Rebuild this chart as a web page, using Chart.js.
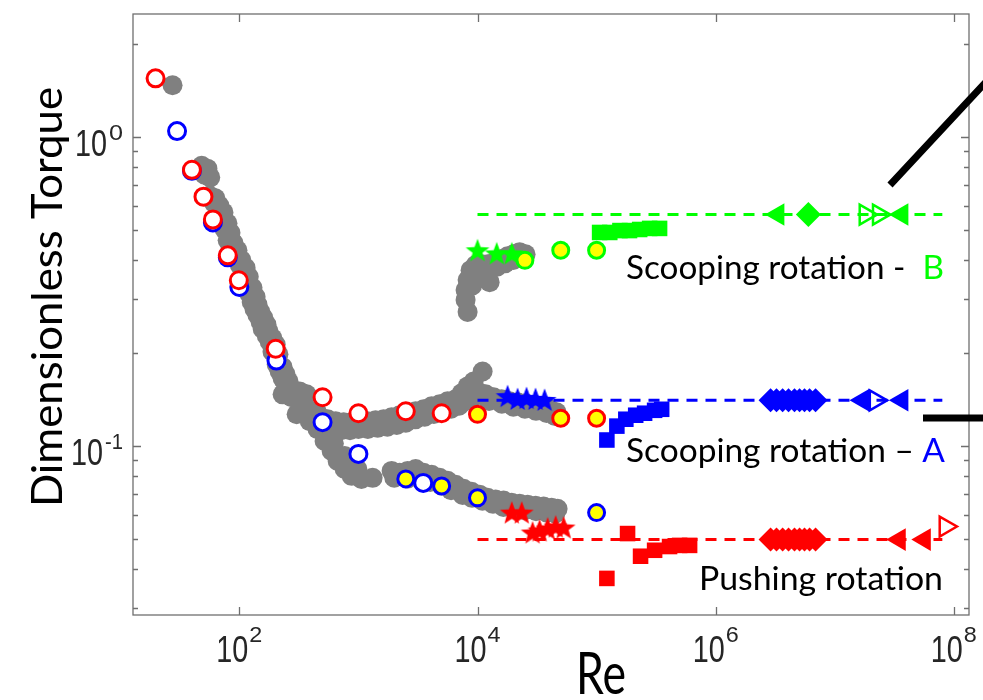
<!DOCTYPE html>
<html>
<head>
<meta charset="utf-8">
<script src="https://cdn.jsdelivr.net/npm/chart.js@4"></script>
<style>
  body { margin: 0; background: #fff; }
  #wrap { width: 983px; height: 700px; }
</style>
</head>
<body>
<div id="wrap"><canvas id="myChart" width="983" height="700"></canvas></div>
<script>
// axis ranges (Re, dimensionless torque)
const xMin = 12.8, xMax = 1.34e8;
const yMin = 0.0284, yMax = 2.5;

// tick labels
const xTicks = [1e2, 1e4, 1e6, 1e8];
const xTickExp = ['2', '4', '6', '8'];
const yTicks = [1, 0.1];
const yTickExp = ['0', '-1'];
const yMinor = [0.03, 0.04, 0.05, 0.06, 0.07, 0.08, 0.09, 0.2, 0.3, 0.4, 0.5, 0.6, 0.7, 0.8, 0.9, 2];

// grey background data [Re, torque]
const grayPts = [
  [27.5, 1.47], [48.3, 0.807], [51.1, 0.755], [56.3, 0.646], [60.8, 0.614], [65.7, 0.582],
  [71, 0.537], [75.3, 0.502], [79.8, 0.463], [86.2, 0.44], [93.1, 0.408], [101, 0.385],
  [107, 0.36], [115, 0.332], [122, 0.31], [127, 0.2925], [134, 0.278], [142, 0.2657],
  [151, 0.252], [157, 0.2394], [170, 0.2275], [180, 0.2176], [190, 0.202], [206, 0.1835],
  [218, 0.1742], [231, 0.1654], [240, 0.1618], [231, 0.147], [264, 0.1559], [303, 0.1502],
  [321, 0.1502], [367, 0.147], [303, 0.1267], [353, 0.1345], [405, 0.1296], [446, 0.1296],
  [54, 0.79], [57, 0.74], [63, 0.633], [68, 0.6], [73.6, 0.57], [79.5, 0.526], [84.3, 0.49],
  [89.4, 0.454], [96.5, 0.43], [104, 0.4], [113, 0.377], [120, 0.353], [129, 0.325], [137, 0.304],
  [142, 0.287], [150, 0.272], [159, 0.26], [169, 0.247], [176, 0.235], [190, 0.223], [202, 0.213],
  [213, 0.198], [231, 0.18], [244, 0.171], [259, 0.162], [275, 0.1438], [333, 0.1375], [390, 0.1203],
  // upper branch
  [472, 0.1249], [551, 0.1221], [644, 0.1203], [751, 0.1195], [877, 0.1195], [1023, 0.1203],
  [1195, 0.1203], [1394, 0.1212], [1628, 0.1221], [1900, 0.1239], [2218, 0.1258], [2590, 0.1277],
  [3022, 0.1296], [3528, 0.1315], [4118, 0.1345], [4807, 0.1365], [5610, 0.1396], [6549, 0.1416],
  [7353, 0.1481], [8258, 0.1559], [9274, 0.1618], [11040, 0.1742], [10020, 0.1502], [11700, 0.147],
  [13650, 0.1438], [15930, 0.1416], [18600, 0.1396], [21720, 0.1385], [25340, 0.1375], [29580, 0.1355],
  [34530, 0.1335], [40310, 0.1315], [46150, 0.1286],
  [472, 0.118], [600, 0.114], [720, 0.1125], [850, 0.1125], [1000, 0.1135], [1200, 0.1135],
  [1450, 0.1145], [1750, 0.1155], [2100, 0.117], [2500, 0.119], [3000, 0.122], [3600, 0.1245],
  [4300, 0.127], [5100, 0.1295], [6000, 0.132], [7000, 0.135], [8000, 0.14], [9500, 0.145],
  [12500, 0.14], [16000, 0.137], [20000, 0.134], [25000, 0.132], [31000, 0.13], [38000, 0.128],
  [45000, 0.125],
  // lower branch
  [454, 0.1134], [520, 0.1038], [596, 0.0964], [669, 0.0895], [766, 0.0843], [877, 0.0801],
  [520, 0.1117], [622, 0.102], [766, 0.0929], [980, 0.0843], [1060, 0.0783],
  [1316, 0.0789], [1900, 0.0831], [2218, 0.0819], [2590, 0.0831], [3022, 0.0843], [3528, 0.0819],
  [4118, 0.0807], [4807, 0.0789], [5610, 0.0772], [6549, 0.0749], [7641, 0.0727], [8920, 0.0711],
  [10410, 0.0696], [12160, 0.068], [14190, 0.0671], [16560, 0.0666], [19340, 0.0656], [22570, 0.0651],
  [26340, 0.0646], [30740, 0.0641], [35890, 0.0637], [41900, 0.0632], [47040, 0.0627],
  [2000, 0.079], [2600, 0.0785], [3300, 0.079], [4000, 0.0765], [5000, 0.0745], [6000, 0.072],
  [7500, 0.0695], [9000, 0.068], [11000, 0.0665], [13500, 0.065], [16500, 0.0635], [20000, 0.0628],
  [25000, 0.062], [31000, 0.0615], [38000, 0.061], [45000, 0.0605],
  // branch towards B
  [8258, 0.2717], [7943, 0.297], [7943, 0.3197], [8258, 0.3443], [8750, 0.3708], [9640, 0.385],
  [10820, 0.3877], [12640, 0.339], [9840, 0.3573], [12160, 0.3877], [13920, 0.394], [15930, 0.4023],
  [17890, 0.4113], [20100, 0.4174], [22570, 0.424], [25340, 0.4174],
  [9000, 0.33], [9500, 0.36], [10500, 0.365], [11500, 0.37], [13000, 0.375], [14500, 0.38],
  [17000, 0.39], [20000, 0.4], [11000, 0.35]
];

const redOpen = [[19.8, 1.548], [40, 0.783], [50, 0.641], [60, 0.541], [80, 0.414], [99, 0.344],
  [202, 0.2065], [500, 0.1438], [1000, 0.1277], [2500, 0.1296], [5000, 0.1277]];
const blueOpen = [[30, 1.045], [40, 0.777], [60, 0.529], [80, 0.408], [100, 0.327], [205, 0.189],
  [500, 0.1195], [1000, 0.0943], [3500, 0.076]];
const redYellow = [[1e4, 0.1267], [5e4, 0.123], [1e5, 0.123]];
const blueYellow = [[2500, 0.0783], [5000, 0.0743], [1e4, 0.068], [1e5, 0.0609]];
const greenYellow = [[2.5e4, 0.399], [5e4, 0.43], [1e5, 0.43]];

const greenStars = [[1e4, 0.43], [1.45e4, 0.42], [1.94e4, 0.42]];
const blueStars = [[17900, 0.145], [21700, 0.142], [25800, 0.143], [30700, 0.142], [36600, 0.141]];
const redStars = [[19400, 0.0609], [23500, 0.0609], [29000, 0.0525], [33200, 0.0533],
  [38800, 0.0541], [45300, 0.0549], [52900, 0.0545]];

const greenSquares = [[1.06e5, 0.491], [1.29e5, 0.491], [1.57e5, 0.498], [1.89e5, 0.498],
  [2.3e5, 0.502], [2.79e5, 0.506], [3.38e5, 0.506]];
const blueSquares = [[1.22e5, 0.1046], [1.48e5, 0.116], [1.76e5, 0.1221], [2.13e5, 0.1258],
  [2.53e5, 0.1277], [3.07e5, 0.1305], [3.52e5, 0.1315]];
const redSquares = [[1.22e5, 0.0373], [1.82e5, 0.0521], [2.34e5, 0.044], [3.07e5, 0.046],
  [4.1e5, 0.0473], [4.98e5, 0.0477], [6.04e5, 0.0477]];

// large-Re levels (dashed lines)
const lineRe = [1e4, 8e7];
const levelB = 0.561, levelA = 0.1406, levelPush = 0.0498;
const diamondRe = [2.89e6, 3.24e6, 3.65e6, 4.09e6, 4.59e6, 5.06e6, 5.57e6, 6.14e6, 6.9e6];
const greenDiamondRe = [6.0e6];
const greenLeftRe = [3.33e6, 3.66e7];
const greenRightRe = [1.81e7, 2.34e7];
const blueLeftRe = [1.71e7, 3.66e7];
const blueRightRe = [2.2e7];
const redLeftRe = [3.48e7, 5.65e7];
const redRightOpen = [[8.5e7, 0.0549]];

const RED = '#ff0000', BLUE = '#0000ff', GREEN = '#00ff00', GRAY = '#808080', YEL = '#ffff00';

const pts = arr => arr.map(p => ({ x: p[0], y: p[1] }));
const atLevel = (xs, y) => xs.map(x => ({ x: x, y: y }));

// filled pentagram marker
function starImg(color) {
  const c = document.createElement('canvas');
  c.width = 26; c.height = 26;
  const g = c.getContext('2d');
  g.fillStyle = color;
  g.beginPath();
  for (let i = 0; i < 10; i++) {
    const r = i % 2 ? 5.2 : 12.5;
    const a = -Math.PI / 2 + i * Math.PI / 5;
    g.lineTo(13 + r * Math.cos(a), 14 + r * Math.sin(a));
  }
  g.closePath();
  g.fill();
  return c;
}

function dashed(y, color) {
  return {
    data: atLevel(lineRe, y), showLine: true, borderColor: color, borderWidth: 3,
    borderDash: [11, 8], pointRadius: 0, order: 15
  };
}
function marker(data, style, color, radius, extra) {
  return Object.assign({
    data: data, pointStyle: style, pointRadius: radius, backgroundColor: color,
    borderColor: color, borderWidth: 0, order: 2
  }, extra || {});
}

const datasets = [
  { data: pts(grayPts), pointRadius: 10, backgroundColor: GRAY, borderWidth: 0, order: 20 },
  dashed(levelB, GREEN), dashed(levelA, BLUE), dashed(levelPush, RED),
  marker(pts(blueOpen), 'circle', '#fff', 8.5, { borderColor: BLUE, borderWidth: 3, order: 6 }),
  marker(pts(redOpen), 'circle', '#fff', 8.5, { borderColor: RED, borderWidth: 3, order: 5 }),
  marker(pts(redYellow), 'circle', YEL, 8, { borderColor: RED, borderWidth: 3, order: 4 }),
  marker(pts(blueYellow), 'circle', YEL, 8, { borderColor: BLUE, borderWidth: 3, order: 4 }),
  marker(pts(greenYellow), 'circle', YEL, 8, { borderColor: GREEN, borderWidth: 3, order: 4 }),
  marker(pts(greenStars), starImg(GREEN), GREEN, 12),
  marker(pts(blueStars), starImg(BLUE), BLUE, 12),
  marker(pts(redStars), starImg(RED), RED, 12),
  marker(pts(greenSquares), 'rect', GREEN, 11),
  marker(pts(blueSquares), 'rect', BLUE, 11),
  marker(pts(redSquares), 'rect', RED, 11),
  marker(atLevel(diamondRe, levelA), 'rectRot', BLUE, 12),
  marker(atLevel(diamondRe, levelPush), 'rectRot', RED, 12),
  marker(atLevel(greenDiamondRe, levelB), 'rectRot', GREEN, 12.5),
  marker(atLevel(greenLeftRe, levelB), 'triangle', GREEN, 13, { rotation: -90 }),
  marker(atLevel(blueLeftRe, levelA), 'triangle', BLUE, 13, { rotation: -90 }),
  marker(atLevel(redLeftRe, levelPush), 'triangle', RED, 13, { rotation: -90 }),
  marker(atLevel(greenRightRe, levelB), 'triangle', 'rgba(0,0,0,0)', 11.5,
    { rotation: 90, borderColor: GREEN, borderWidth: 2.5 }),
  marker(atLevel(blueRightRe, levelA), 'triangle', 'rgba(0,0,0,0)', 11.5,
    { rotation: 90, borderColor: BLUE, borderWidth: 2.5 }),
  marker(pts(redRightOpen), 'triangle', 'rgba(0,0,0,0)', 11.5,
    { rotation: 90, borderColor: RED, borderWidth: 2.5 })
];

// draw text squeezed/stretched to a given width
function fitText(c, txt, x, y, w) {
  const m = c.measureText(txt).width;
  c.save();
  c.translate(x, y);
  c.scale(w / m, 1);
  c.fillText(txt, 0, 0);
  c.restore();
}

// MATLAB style box, inward ticks, labels and annotations
const axesPlugin = {
  id: 'matlabAxes',
  afterDraw(chart) {
    const c = chart.ctx, a = chart.chartArea;
    const sx = chart.scales.x, sy = chart.scales.y;
    c.save();
    c.strokeStyle = '#6f6f6f';
    c.lineWidth = 1.3;
    c.beginPath();
    xTicks.forEach(v => {
      const px = Math.round(sx.getPixelForValue(v)) + 0.5;
      c.moveTo(px, a.bottom); c.lineTo(px, a.bottom - 8);
      c.moveTo(px, a.top); c.lineTo(px, a.top + 8);
    });
    yTicks.forEach(v => {
      const py = Math.round(sy.getPixelForValue(v)) + 0.5;
      c.moveTo(a.left, py); c.lineTo(a.left + 8, py);
      c.moveTo(a.right, py); c.lineTo(a.right - 8, py);
    });
    yMinor.forEach(v => {
      const py = Math.round(sy.getPixelForValue(v)) + 0.5;
      c.moveTo(a.left, py); c.lineTo(a.left + 5, py);
      c.moveTo(a.right, py); c.lineTo(a.right - 5, py);
    });
    c.stroke();
    c.strokeRect(a.left, a.top, a.right - a.left, a.bottom - a.top);

    // tick labels 10^n
    c.fillStyle = '#262626';
    c.textBaseline = 'alphabetic';
    xTicks.forEach((v, i) => {
      const px = sx.getPixelForValue(v);
      c.font = '36px "Liberation Sans"';
      fitText(c, '10', px - 23, 662, 32);
      c.font = '22px "Liberation Sans"';
      fitText(c, xTickExp[i], px + 10, 642, 13);
    });
    yTicks.forEach((v, i) => {
      const py = sy.getPixelForValue(v);
      const ew = yTickExp[i].length > 1 ? 18 : 14;
      c.font = '22px "Liberation Sans"';
      fitText(c, yTickExp[i], 123 - ew, py + 3, ew);
      c.font = '36px "Liberation Sans"';
      fitText(c, '10', 123 - ew - 2 - 32, py + 19, 32);
    });

    // axis titles
    c.fillStyle = '#000';
    c.font = '58px Lato';
    fitText(c, 'Re', 576, 694, 50);
    c.save();
    c.translate(62, 507);
    c.rotate(-Math.PI / 2);
    c.font = '42px Lato';
    fitText(c, 'Dimensionless Torque', 0, 0, 420);
    c.restore();

    // annotations
    c.font = '33px Lato';
    const labels = [
      ['Scooping rotation -  ', 'B', GREEN, 626, 279, 318],
      ['Scooping rotation \u2013 ', 'A', BLUE, 626, 462, 319],
      ['Pushing rotation', '', '#000', 699, 590, 244]
    ];
    labels.forEach(l => {
      const full = l[0] + l[1];
      const s = l[5] / c.measureText(full).width;
      c.save();
      c.translate(l[3], l[4]);
      c.scale(s, 1);
      c.fillStyle = '#000';
      c.fillText(l[0], 0, 0);
      c.fillStyle = l[2];
      c.fillText(l[1], c.measureText(l[0]).width, 0);
      c.restore();
    });

    // pointer lines
    c.strokeStyle = '#000';
    c.lineWidth = 7;
    c.beginPath();
    c.moveTo(890, 185); c.lineTo(1000, 67);
    c.moveTo(923, 418); c.lineTo(990, 418);
    c.stroke();
    c.restore();
  }
};

const ctx = document.getElementById('myChart').getContext('2d');
const myChart = new Chart(ctx, {
  type: 'scatter',
  data: { datasets: datasets },
  options: {
    responsive: false,
    animation: false,
    layout: { padding: { left: 133, right: 14, top: 10, bottom: 85 } },
    plugins: { legend: { display: false }, tooltip: { enabled: false } },
    scales: {
      x: { type: 'logarithmic', display: false, min: xMin, max: xMax },
      y: { type: 'logarithmic', display: false, min: yMin, max: yMax }
    }
  },
  plugins: [axesPlugin]
});
</script>
</body>
</html>
